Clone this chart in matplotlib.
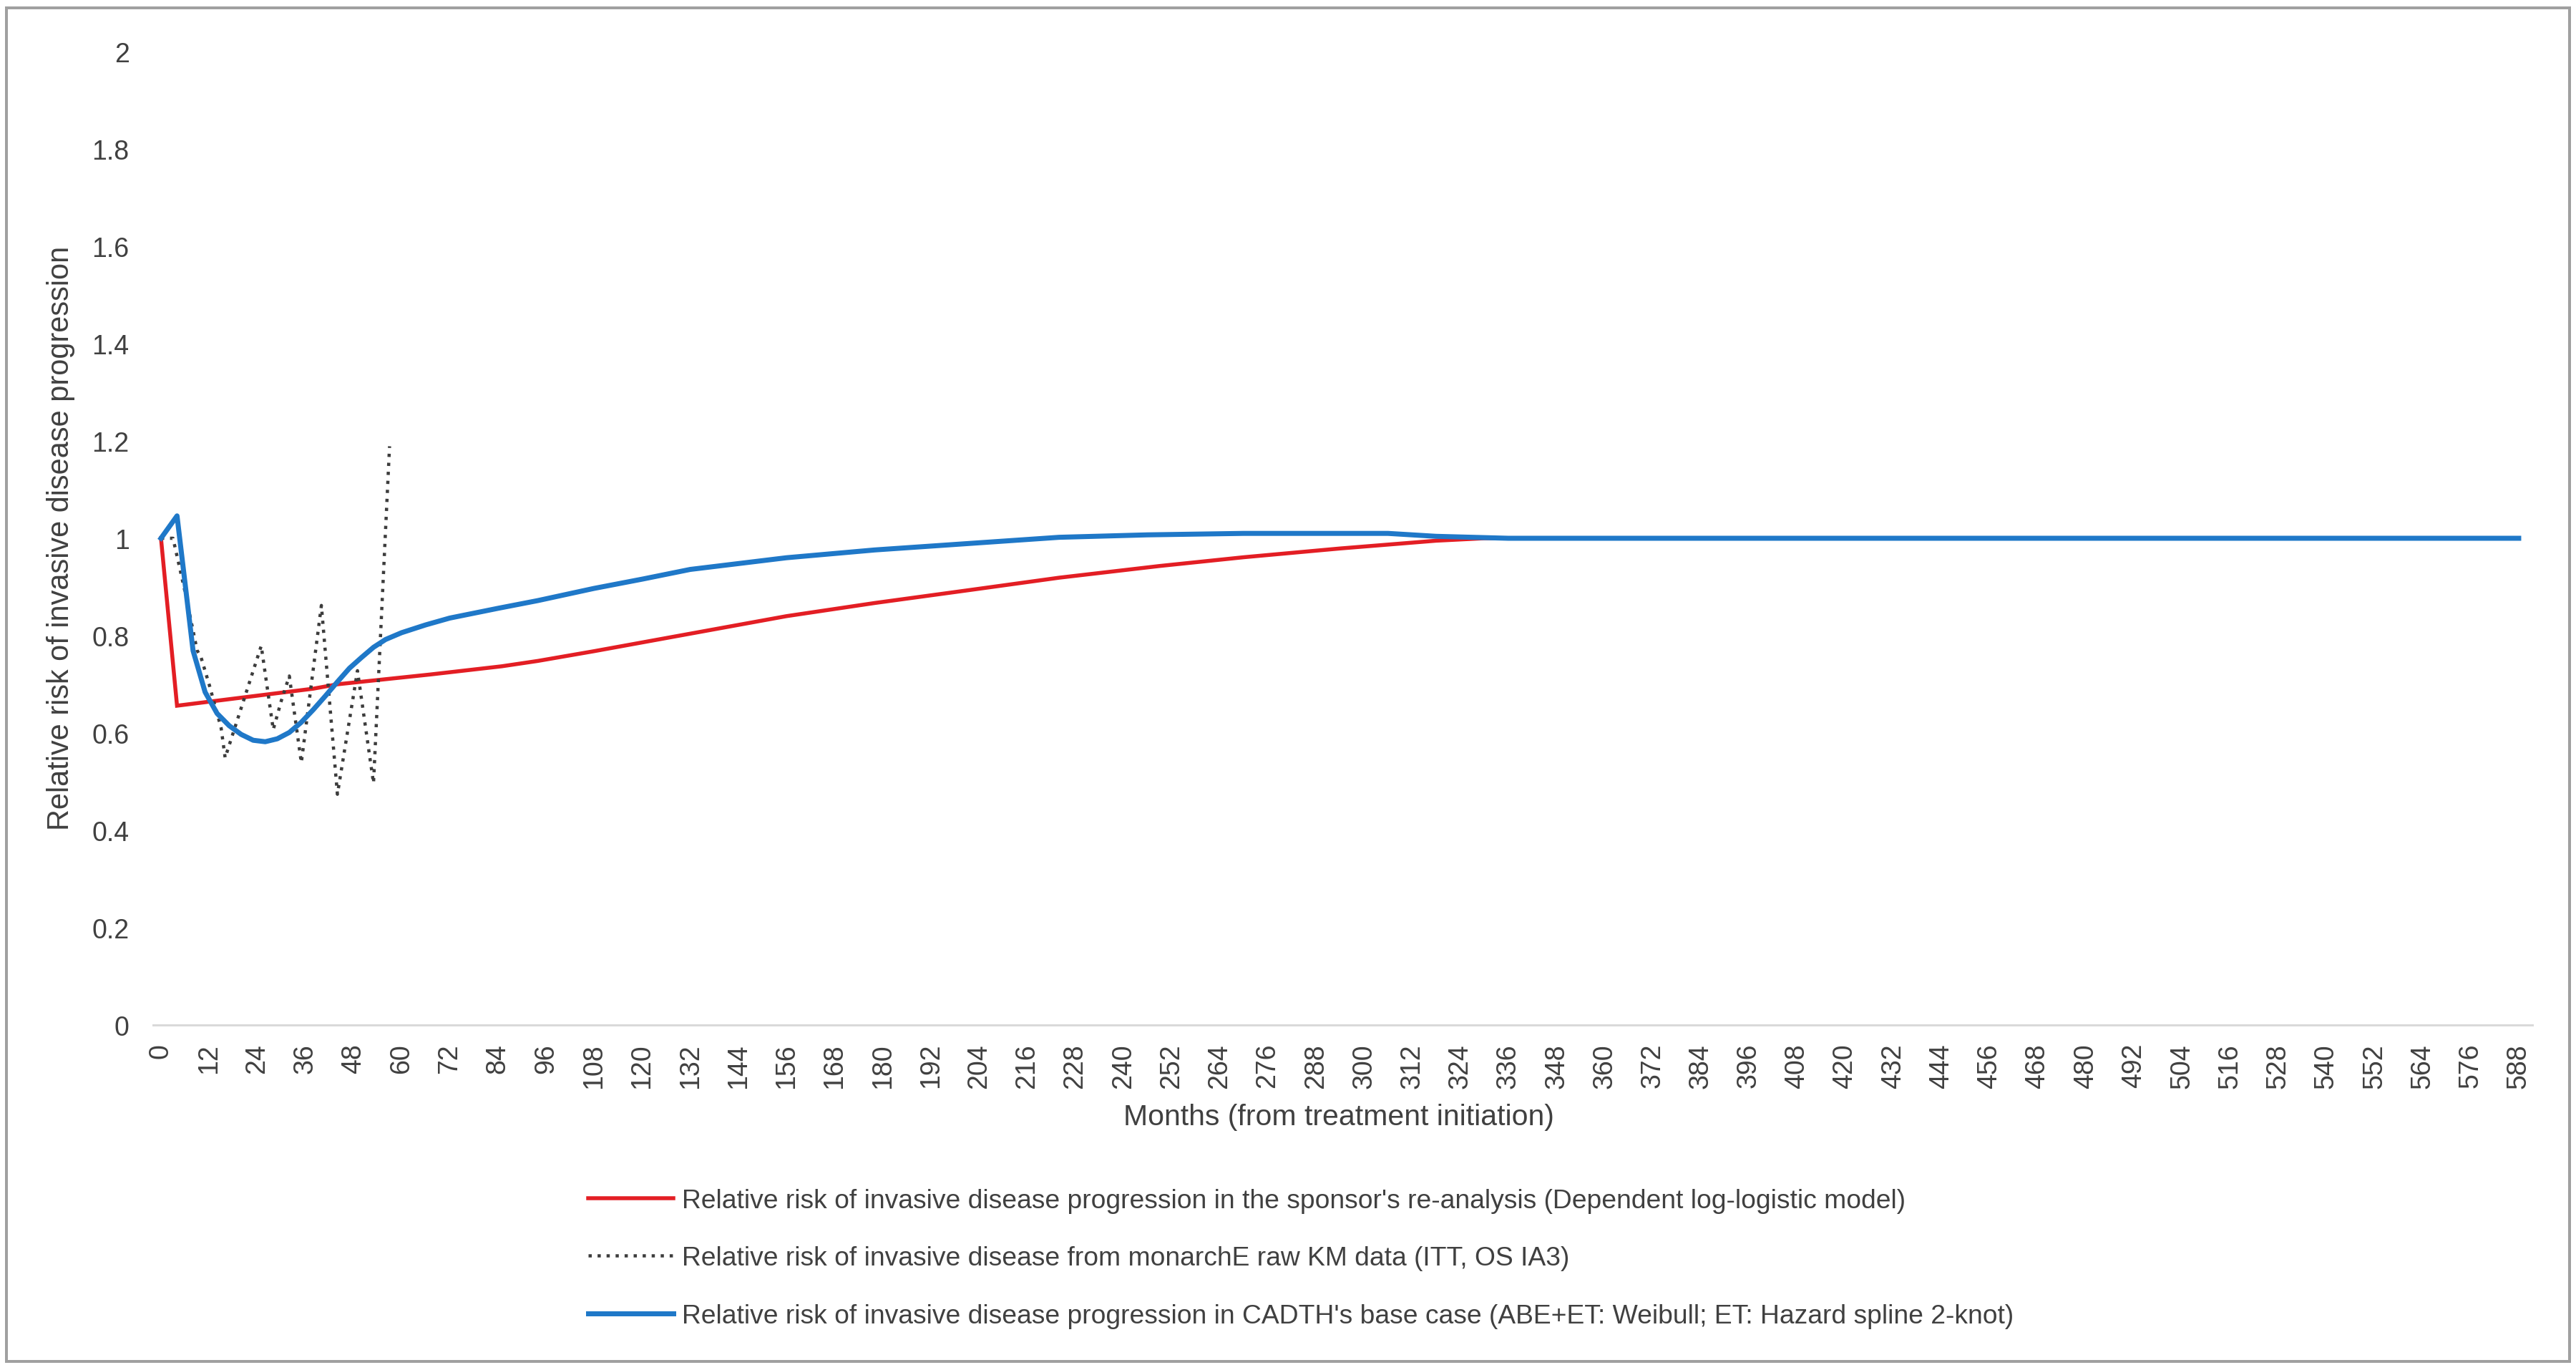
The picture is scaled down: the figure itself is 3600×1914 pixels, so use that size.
import matplotlib
matplotlib.use("Agg")
import matplotlib.pyplot as plt
from matplotlib.patches import Rectangle

W, H, DPI = 3600, 1915, 100

# ---------------- data ----------------
x_ticks = list(range(0, 589, 12))
y_ticks = [0, 0.2, 0.4, 0.6, 0.8, 1.0, 1.2, 1.4, 1.6, 1.8, 2.0]
y_tick_labels = ["0", "0.2", "0.4", "0.6", "0.8", "1", "1.2", "1.4", "1.6", "1.8", "2"]

red_months = [0, 4, 38, 44, 67, 85, 94, 108, 120, 132, 156, 178, 202, 224, 249,
              270, 294, 318, 330, 588]
red_values = [1.0, 0.656, 0.691, 0.700, 0.720, 0.737, 0.748, 0.768, 0.786, 0.804,
              0.840, 0.867, 0.894, 0.919, 0.943, 0.961, 0.979, 0.995, 1.0, 1.0]

km_months = [0, 3, 6, 9, 10, 12, 15, 16, 25, 28, 30, 32, 35, 40, 44, 49, 53, 57]
km_values = [1.0, 1.0, 0.89, 0.77, 0.755, 0.70, 0.61, 0.549, 0.779, 0.607, 0.666,
             0.717, 0.539, 0.862, 0.474, 0.728, 0.497, 1.189]

blue_months = [0, 4, 8, 11, 14, 17, 20, 23, 26, 29, 32, 35, 38, 41, 44, 47, 50, 53,
               56, 60, 66, 72, 84, 94, 108, 120, 132, 156, 178, 224, 246, 270, 306,
               318, 336, 588]
blue_values = [1.0, 1.046, 0.769, 0.684, 0.640, 0.615, 0.597, 0.585, 0.582, 0.588,
               0.601, 0.622, 0.648, 0.676, 0.705, 0.733, 0.755, 0.776, 0.792, 0.806,
               0.822, 0.836, 0.856, 0.872, 0.897, 0.916, 0.936, 0.960, 0.976, 1.002,
               1.007, 1.010, 1.010, 1.004, 1.0, 1.0]

labels = [
    "Relative risk of invasive disease progression in the sponsor's re-analysis (Dependent log-logistic model)",
    "Relative risk of invasive disease from monarchE raw KM data (ITT, OS IA3)",
    "Relative risk of invasive disease progression in CADTH's base case (ABE+ET: Weibull; ET: Hazard spline 2-knot)",
]
x_label = "Months (from treatment initiation)"
y_label = "Relative risk of invasive disease progression"

# ---------------- style ----------------
plt.rcParams["font.family"] = ["Liberation Sans", "DejaVu Sans"]
NARROW = ["Liberation Sans Narrow", "Liberation Sans", "DejaVu Sans"]
TXT = "#404040"
RED = "#E31E24"
BLUE = "#1F78C8"
GREY = "#3C3C3C"

fig = plt.figure(figsize=(W / DPI, H / DPI), dpi=DPI, facecolor="white")

def px(v):  # pixels -> points
    return v * 72.0 / DPI

ax_l, ax_r, ax_t, ax_b = 214, 3539, 73, 1433
ax = fig.add_axes([ax_l / W, 1 - ax_b / H, (ax_r - ax_l) / W, (ax_b - ax_t) / H])
ax.set_facecolor("white")

l_red, = ax.plot(red_months, red_values, color=RED, lw=px(5.5), solid_joinstyle="miter")
l_km, = ax.plot(km_months, km_values, color=GREY, lw=px(4.5),
                linestyle=(0, (1, 1.8)), dash_capstyle="butt")
l_blue, = ax.plot(blue_months, blue_values, color=BLUE, lw=px(7), solid_joinstyle="round")

ax.set_xlim(-1.96, 591.4)
ax.set_ylim(0, 2)
ax.set_xticks(x_ticks)
ax.set_xticklabels([str(v) for v in x_ticks], rotation=90)
ax.set_yticks(y_ticks)
ax.set_yticklabels(y_tick_labels)
ax.tick_params(axis="both", length=0, labelsize=27, labelcolor=TXT)
ax.tick_params(axis="y", pad=24)
ax.tick_params(axis="x", pad=18)
for s in ["top", "right", "left"]:
    ax.spines[s].set_visible(False)
ax.spines["bottom"].set_color("#d9d9d9")
ax.spines["bottom"].set_linewidth(px(3))

renderer = fig.canvas.get_renderer()

def fit(t, target, dim="w"):
    bb = t.get_window_extent(renderer)
    cur = bb.width if dim == "w" else bb.height
    t.set_fontsize(t.get_fontsize() * target / cur)

# axis titles
xl = fig.text(1871 / W, 1 - 1561 / H, x_label, ha="center", va="center",
              color=TXT, fontsize=26)
fit(xl, 602, "w")
yl = fig.text(85 / W, 1 - 752 / H, y_label, ha="center", va="center", rotation=90,
              color=TXT, fontsize=26, family=NARROW)
fit(yl, 816, "h")

# legend: determine font size from the width of the first entry
tmp = fig.text(0, 0, labels[0], fontsize=24, family=NARROW)
bb = tmp.get_window_extent(renderer)
leg_fs = 24 * 1710 / bb.width
tmp.remove()
fs_px = leg_fs * DPI / 72.0

def make_leg(spacing):
    return fig.legend([l_red, l_km, l_blue], labels, loc="center left",
                      bbox_to_anchor=(822 / W, 1 - 1759 / H), frameon=False,
                      prop={"family": NARROW, "size": leg_fs}, labelcolor=TXT,
                      handlelength=119 / fs_px, handletextpad=12 / fs_px,
                      labelspacing=spacing, borderpad=0, borderaxespad=0)

sp = 1.0
leg = make_leg(sp)
fig.canvas.draw()
ts = leg.get_texts()
c0 = ts[0].get_window_extent(renderer)
c2 = ts[2].get_window_extent(renderer)
pitch = ((c0.y0 + c0.y1) - (c2.y0 + c2.y1)) / 4.0
leg.remove()
sp = sp + (80.5 - pitch) / fs_px
leg = make_leg(sp)

# outer frame
fig.add_artist(Rectangle((9 / W, 12 / H), 3582 / W, 1891 / H, transform=fig.transFigure,
                         fill=False, edgecolor="#a0a0a0", lw=px(4)))

fig.savefig("out.png", dpi=DPI, facecolor="white")
